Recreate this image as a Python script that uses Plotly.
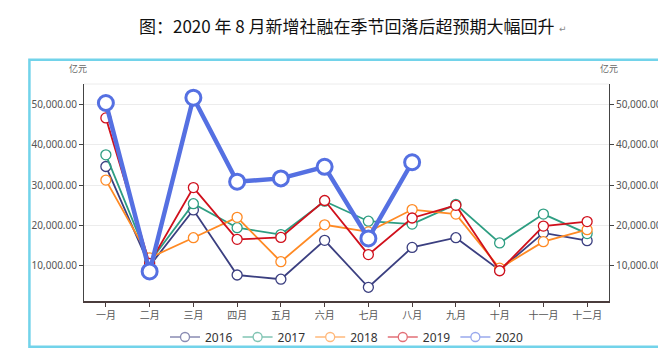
import plotly.graph_objects as go

months = ["一月", "二月", "三月", "四月", "五月", "六月", "七月", "八月", "九月", "十月", "十一月", "十二月"]
s2016 = [34650, 10000, 23880, 7740, 6700, 16340, 4700, 14580, 16990, 8940, 18190, 16260]
s2017 = [37540, 11000, 25420, 19470, 17780, 26050, 21080, 20360, 25250, 15690, 22840, 18020]
s2018 = [31280, 12000, 16990, 22040, 11040, 20190, 18430, 23970, 22840, 9430, 16020, 18990]
s2019 = [46700, 10600, 29420, 16580, 17060, 26220, 12800, 21880, 25010, 8800, 19880, 20990]
s2020 = [50390, 8630, 51700, 30870, 31700, 34580, 16820, 35700]
years = ["2016", "2017", "2018", "2019", "2020"]
colors = ["#3b3f80", "#2e9e82", "#ff8a24", "#d0101c", "#5570e2"]
tickvals = [10000, 20000, 30000, 40000, 50000]

W, H = 666, 355
L, R, T, B = 76, 61, 76, 56
pw, ph = W - L - R, H - T - B

def px(x):
    return (x - L) / pw

def py(y):
    return (H - B - y) / ph

fig = go.Figure()
series = [s2016, s2017, s2018, s2019, s2020]
for name, vals, col in zip(years, series, colors):
    big = name == "2020"
    fig.add_trace(go.Scatter(
        x=months[:len(vals)], y=vals, name=name, mode="lines+markers", showlegend=False,
        line=dict(color=col, width=4.5 if big else 1.8),
        marker=dict(symbol="circle", size=15 if big else 10, color="white",
                    line=dict(color=col, width=3 if big else 1.3)),
    ))
# legend entries (uniform small markers, faded as in the reference)
for name, col in zip(years, colors):
    fig.add_trace(go.Scatter(
        x=[None], y=[None], name=name, mode="lines+markers", opacity=0.6,
        line=dict(color=col, width=1.5),
        marker=dict(symbol="circle", size=9, color="white", line=dict(color=col, width=1.3)),
    ))

fig.add_trace(go.Scatter(x=months, y=s2016, yaxis="y2", mode="lines",
                         line=dict(width=0), opacity=0, showlegend=False, hoverinfo="skip"))

yr = [1300, 55100]
axis_font = dict(family="Noto Sans, Noto Sans CJK SC", size=10, color="#555")
fig.update_layout(
    width=W, height=H, margin=dict(l=L, r=R, t=T, b=B),
    paper_bgcolor="white", plot_bgcolor="white",
    xaxis=dict(type="category", categoryorder="array", categoryarray=months,
               range=[-0.5, 11.5], showgrid=False, showline=True, linecolor="#4a3c3c", linewidth=2,
               ticks="outside", ticklen=4, tickcolor="#4a3c3c", tickfont=axis_font, zeroline=False),
    yaxis=dict(range=yr, tickvals=tickvals, tickformat=",.2f", showgrid=True, gridcolor="#ececec",
               showline=True, linecolor="#444", linewidth=1, ticks="outside", ticklen=4,
               tickcolor="#444", tickfont=axis_font, zeroline=False),
    yaxis2=dict(range=yr, tickvals=tickvals, tickformat=",.2f", overlaying="y", side="right",
                showgrid=False, showline=True, linecolor="#444", linewidth=1, ticks="outside",
                ticklen=4, tickcolor="#444", tickfont=axis_font, zeroline=False),
    legend=dict(orientation="h", x=0.5, xanchor="center", y=py(336), yanchor="middle",
                font=dict(family="Noto Sans", size=12, color="#333"), itemwidth=30,
                bgcolor="rgba(0,0,0,0)"),
    showlegend=True,
)

fig.add_annotation(text="图：2020 年 8 月新增社融在季节回落后超预期大幅回升", xref="paper", yref="paper",
                   x=px(341), y=py(16), xanchor="center", yanchor="middle", showarrow=False,
                   font=dict(family="Noto Sans CJK SC", size=17, color="#111"))
fig.add_annotation(text="↵", xref="paper", yref="paper", x=px(553), y=py(19), xanchor="left",
                   yanchor="middle", showarrow=False,
                   font=dict(family="DejaVu Sans", size=9, color="#888"))

fig.add_shape(type="rect", xref="paper", yref="paper", x0=px(21), x1=px(662), y0=py(346), y1=py(51),
              line=dict(color="#72d3ea", width=2.5), fillcolor="rgba(0,0,0,0)", layer="below")
fig.add_shape(type="line", xref="paper", yref="paper", x0=0, x1=1, y0=1, y1=1,
              line=dict(color="#ececec", width=1), layer="below")
for xx in (px(70), px(605)):
    fig.add_annotation(text="亿元", xref="paper", yref="paper", x=xx, y=py(60), showarrow=False,
                       font=dict(family="Noto Sans CJK SC", size=9, color="#666"),
                       xanchor="center", yanchor="middle")

fig.write_html("out.html")
